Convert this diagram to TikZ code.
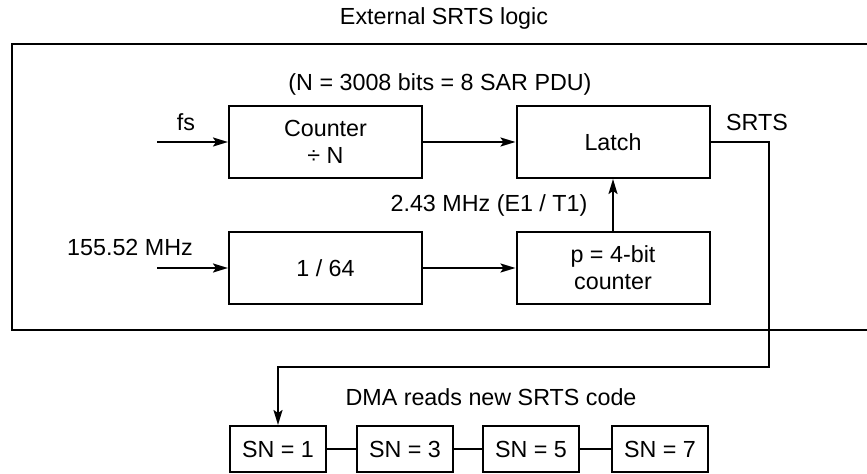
\documentclass[tikz,border=0pt]{standalone}
\usepackage{fontspec}
\setmainfont{Liberation Sans}
\usetikzlibrary{arrows.meta}
\tikzset{
  lbl/.style={inner sep=0pt, font=\fontsize{23.3bp}{27bp}\selectfont, align=center},
  blk/.style={lbl, draw, line width=2bp, minimum width=193bp, minimum height=72bp},
  snbox/.style={lbl, draw, line width=2bp, minimum width=96bp, minimum height=46bp},
  conn/.style={line width=2bp, -{Stealth[length=15bp,width=9bp,inset=3bp]}},
  wire/.style={line width=2bp}
}
\begin{document}
\begin{tikzpicture}[x=1bp,y=-1bp]
\useasboundingbox (0,0) rectangle (867,474);
% outer frame (right side runs past the picture edge)
\draw[wire] (880,44) -- (12,44) -- (12,330) -- (880,330);
% texts
\node[lbl] (title) at (444,18) {External SRTS logic};
\node[lbl] (nlab) at (440,84) {(N = 3008 bits = 8 SAR PDU)};
\node[lbl] (fs) at (186,122) {fs};
\node[lbl] (mhz) at (130,247) {155.52 MHz};
\node[lbl] (e1) at (489,205) {2.43 MHz (E1 / T1)};
\node[lbl] (srts) at (757,122) {SRTS};
\node[lbl] (dma) at (491,397) {DMA reads new SRTS code};
% blocks
\node[blk] (counter) at (325.5,142) {Counter\\÷ N};
\node[blk] (latch) at (613,142) {Latch};
\node[blk] (div) at (325.5,268) {1 / 64};
\node[blk] (pcnt) at (613,268) {p = 4-bit\\counter};
\node[snbox] (sn1) at (278,449) {SN = 1};
\node[snbox] (sn3) at (405,449) {SN = 3};
\node[snbox] (sn5) at (531,449) {SN = 5};
\node[snbox] (sn7) at (660,449) {SN = 7};
% free ends
\coordinate (fsin) at (157,142);
\coordinate (mhzin) at (157,268);
\coordinate (turn) at (769,367);
% connectors
\draw[conn] (fsin) -- (counter.west);
\draw[conn] (mhzin) -- (div.west);
\draw[conn] (counter.east) -- (latch.west);
\draw[conn] (div.east) -- (pcnt.west);
\draw[conn] (pcnt.north) -- (latch.south);
\draw[conn] (latch.east) -| (turn) -| (sn1.north);
\draw[wire] (sn1.east) -- (sn3.west);
\draw[wire] (sn3.east) -- (sn5.west);
\draw[wire] (sn5.east) -- (sn7.west);
\end{tikzpicture}
\end{document}
